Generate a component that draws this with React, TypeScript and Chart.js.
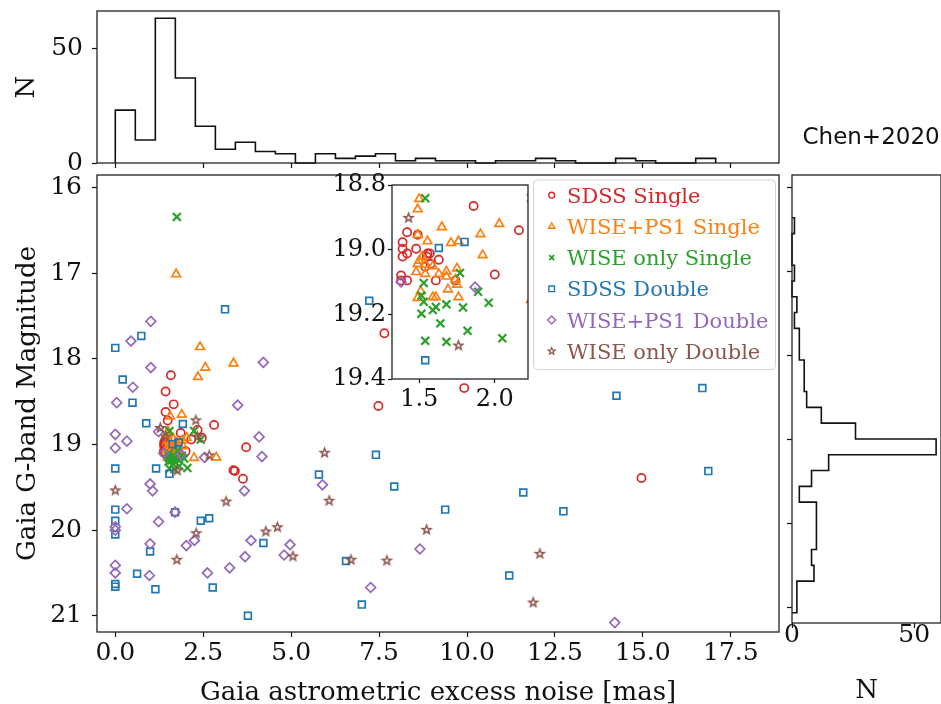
import React, { useEffect, useRef } from "react";
import { Chart, registerables } from "chart.js";

Chart.register(...registerables);

const PAGE_W = 941;
const PAGE_H = 704;

// ---- scatter samples: [excess noise (mas), G magnitude] ----
const SDSS_SINGLE: [number, number][] = [
  [1.58, 18.19], [1.43, 18.38], [1.66, 18.53], [1.43, 18.62], [1.49, 18.72], [2.81, 18.77],
  [2.34, 18.83], [2.46, 18.92], [3.72, 19.03], [3.36, 19.3], [3.4, 19.31], [3.63, 19.4],
  [7.48, 18.55], [9.92, 18.34], [7.65, 17.7], [14.96, 19.39],
  [1.86, 18.865], [2.16, 18.94], [1.42, 18.946], [1.49, 18.954], [1.39, 18.977], [1.39, 18.997],
  [1.42, 19.012], [1.39, 19.021], [1.48, 18.997], [1.555, 19.012], [1.57, 19.012], [1.55, 19.021],
  [1.63, 19.031], [1.575, 19.044], [1.54, 19.053], [1.38, 19.08], [1.42, 19.095], [1.38, 19.095],
  [1.61, 19.095], [1.74, 19.095], [2.0, 19.077],
];
const WISE_PS1_SINGLE: [number, number][] = [
  [1.73, 17.01], [2.41, 17.86], [2.56, 18.1], [2.35, 18.21], [3.36, 18.05], [1.56, 18.67],
  [1.89, 18.65], [2.24, 19.155], [2.87, 19.15],
  [1.5, 18.843], [1.49, 18.875], [1.65, 18.93], [1.49, 18.954], [1.555, 18.974], [1.71, 18.979],
  [1.76, 18.974], [1.905, 18.952], [2.03, 18.92], [1.92, 19.017], [1.52, 19.021], [1.5, 19.034],
  [1.49, 19.044], [1.54, 19.046], [1.59, 19.051], [1.48, 19.069], [1.54, 19.075], [1.63, 19.075],
  [1.68, 19.067], [1.75, 19.058], [1.68, 19.083], [1.69, 19.123], [1.75, 19.108], [1.51, 19.128],
  [1.49, 19.149], [1.59, 19.147], [1.61, 19.147], [1.76, 19.147], [1.74, 19.092],
];
const WISE_ONLY_SINGLE: [number, number][] = [
  [1.75, 16.34], [2.24, 18.84], [2.43, 18.94],
  [1.54, 18.841], [1.77, 19.072], [1.53, 19.103], [1.515, 19.142], [1.53, 19.161], [1.89, 19.13],
  [1.96, 19.164], [1.68, 19.169], [1.61, 19.177], [1.59, 19.187], [1.79, 19.179], [1.515, 19.198],
  [1.64, 19.228], [1.82, 19.251], [1.54, 19.282], [1.68, 19.285], [2.05, 19.274],
];
const SDSS_DOUBLE: [number, number][] = [
  [0.0, 17.87], [0.74, 17.73], [3.12, 17.42], [0.21, 18.24], [0.49, 18.51], [0.88, 18.75],
  [1.92, 18.76], [0.0, 19.28], [1.16, 19.28], [0.0, 19.76], [0.0, 19.89], [0.0, 20.05],
  [1.7, 19.79], [2.43, 19.89], [2.67, 19.86], [0.99, 20.25], [4.21, 20.15], [0.62, 20.51],
  [0.0, 20.63], [0.0, 20.66], [1.14, 20.69], [2.77, 20.67], [3.77, 21.0], [5.79, 19.35],
  [7.22, 17.32], [7.41, 19.12], [7.93, 19.49], [9.38, 19.76], [6.56, 20.36], [7.01, 20.87],
  [11.2, 20.53], [11.6, 19.56], [12.74, 19.78], [14.25, 18.43], [16.69, 18.34], [16.86, 19.31],
  [1.63, 18.995], [1.8, 18.976], [1.54, 19.342],
];
const WISE_PS1_DOUBLE: [number, number][] = [
  [1.01, 17.56], [0.445, 17.79], [4.21, 18.04], [1.01, 18.1], [0.5, 18.33], [0.04, 18.51],
  [3.48, 18.54], [1.23, 18.85], [0.0, 18.88], [0.33, 18.96], [0.0, 19.04], [4.09, 18.91],
  [4.17, 19.14], [2.54, 19.15], [0.99, 19.46], [1.06, 19.54], [3.67, 19.54], [0.33, 19.75],
  [0.0, 19.96], [0.0, 20.0], [1.7, 19.79], [1.23, 19.9], [2.25, 20.12], [2.02, 20.18],
  [0.99, 20.16], [3.86, 20.12], [3.69, 20.31], [4.97, 20.17], [4.8, 20.29], [0.0, 20.41],
  [0.0, 20.5], [0.97, 20.53], [2.62, 20.5], [3.25, 20.44], [5.89, 19.47], [8.66, 20.22],
  [7.26, 20.67], [14.2, 21.08],
  [1.38, 19.1], [1.87, 19.116],
];
const WISE_ONLY_DOUBLE: [number, number][] = [
  [1.28, 18.8], [2.29, 18.71], [2.34, 18.9], [2.67, 19.12], [0.0, 19.53], [3.15, 19.66],
  [2.3, 20.03], [1.75, 20.34], [4.28, 20.01], [4.61, 19.96], [5.05, 20.3], [5.95, 19.09],
  [6.08, 19.65], [8.85, 19.99], [6.7, 20.34], [7.72, 20.35], [12.07, 20.27], [11.88, 20.84],
  [1.43, 18.9], [1.76, 19.295],
];

const SERIES_NAMES = [
  "SDSS Single",
  "WISE+PS1 Single",
  "WISE only Single",
  "SDSS Double",
  "WISE+PS1 Double",
  "WISE only Double",
];
const SERIES_POINTS = [
  SDSS_SINGLE,
  WISE_PS1_SINGLE,
  WISE_ONLY_SINGLE,
  SDSS_DOUBLE,
  WISE_PS1_DOUBLE,
  WISE_ONLY_DOUBLE,
];

// ---- marginal histograms ----
const TOP_HIST_COUNTS = [23, 10, 63, 37, 16, 6, 9, 5, 4, 0, 4, 2, 3, 4, 1, 2, 1, 1, 0, 1, 1, 2, 1, 0, 0, 2, 1, 0, 0, 2];
const TOP_BIN_START = 0;
const TOP_BIN_WIDTH = 0.569;
const RIGHT_HIST_COUNTS = [1, 0, 0, 1, 0, 2, 1, 3, 3, 5, 5, 6, 12, 26, 59, 15, 8, 3, 10, 10, 10, 8, 9, 2, 2];
const RIGHT_BIN_START = 16.36;
const RIGHT_BIN_WIDTH = 0.1883;

// ---- ticks ----
const MAIN_X_TICKS = [0, 2.5, 5, 7.5, 10, 12.5, 15, 17.5];
const MAIN_Y_TICKS = [16, 17, 18, 19, 20, 21];
const INSET_X_TICKS = [1.5, 2.0];
const INSET_Y_TICKS = [18.8, 19.0, 19.2, 19.4];
const TOP_Y_TICKS = [0, 50];
const RIGHT_X_TICKS = [0, 50];

// ---- styling ----
const SERIF = "'DejaVu Serif', serif";
const SANS = "'DejaVu Sans', sans-serif";
const INK = "#111";
const SERIES_STYLE = [
  { color: "#d62728", kind: "circle", radius: 4.1, width: 1.7 },
  { color: "#ff7f0e", kind: "triangle", radius: 5.0, width: 1.7 },
  { color: "#2ca02c", kind: "cross", radius: 5.6, width: 2.2 },
  { color: "#1f77b4", kind: "square", radius: 4.8, width: 1.7 },
  { color: "#9467bd", kind: "diamond", radius: 4.9, width: 1.7 },
  { color: "#8c564b", kind: "star", radius: 4.6, width: 1.5 },
];
const CHART_POINT_STYLE: Record<string, string> = {
  circle: "circle",
  triangle: "triangle",
  cross: "crossRot",
  square: "rect",
  diamond: "rectRot",
};

function starPath(ctx: CanvasRenderingContext2D, x: number, y: number, outer: number, inner: number) {
  ctx.beginPath();
  for (let i = 0; i < 10; i++) {
    const r = i % 2 === 0 ? outer : inner;
    const a = -Math.PI / 2 + (i * Math.PI) / 5;
    const px = x + r * Math.cos(a);
    const py = y + r * Math.sin(a);
    if (i === 0) ctx.moveTo(px, py);
    else ctx.lineTo(px, py);
  }
  ctx.closePath();
}

function makeStarImage(color: string, outer: number, lw: number) {
  const size = Math.ceil(outer * 2 + lw * 2 + 2);
  const c = document.createElement("canvas");
  c.width = size;
  c.height = size;
  const g = c.getContext("2d")!;
  starPath(g, size / 2, size / 2 + 0.5, outer, outer * 0.42);
  g.strokeStyle = color;
  g.lineWidth = lw;
  g.lineJoin = "miter";
  g.stroke();
  return c;
}

function drawMarker(ctx: CanvasRenderingContext2D, kind: string, x: number, y: number, r: number, color: string, lw: number) {
  ctx.save();
  ctx.strokeStyle = color;
  ctx.lineWidth = lw;
  ctx.beginPath();
  if (kind === "circle") {
    ctx.arc(x, y, r, 0, Math.PI * 2);
  } else if (kind === "triangle") {
    ctx.moveTo(x, y - r);
    ctx.lineTo(x + r * 0.866, y + r * 0.5);
    ctx.lineTo(x - r * 0.866, y + r * 0.5);
    ctx.closePath();
  } else if (kind === "cross") {
    ctx.moveTo(x - r, y - r);
    ctx.lineTo(x + r, y + r);
    ctx.moveTo(x + r, y - r);
    ctx.lineTo(x - r, y + r);
  } else if (kind === "square") {
    ctx.rect(x - r, y - r, 2 * r, 2 * r);
  } else if (kind === "diamond") {
    ctx.moveTo(x, y - r);
    ctx.lineTo(x + r, y);
    ctx.lineTo(x, y + r);
    ctx.lineTo(x - r, y);
    ctx.closePath();
  } else if (kind === "star") {
    starPath(ctx, x, y, r, r * 0.42);
  }
  ctx.stroke();
  ctx.restore();
}

// axes frame (all four spines)
const framePlugin = {
  id: "frame",
  afterDraw(chart: any) {
    const { left, top, right, bottom } = chart.chartArea;
    const ctx = chart.ctx;
    ctx.save();
    ctx.strokeStyle = "#222";
    ctx.lineWidth = 1.3;
    ctx.strokeRect(left, top, right - left, bottom - top);
    ctx.restore();
  },
};

// opaque face for the zoomed inset axes
const insetFacePlugin = {
  id: "insetFace",
  beforeDraw(chart: any) {
    const { left, top, right, bottom } = chart.chartArea;
    const ctx = chart.ctx;
    ctx.save();
    ctx.fillStyle = "#fff";
    ctx.fillRect(left, top, right - left, bottom - top);
    ctx.restore();
  },
};

const seriesLegendPlugin = {
  id: "seriesLegend",
  afterDatasetsDraw(chart: any) {
    const ctx = chart.ctx as CanvasRenderingContext2D;
    const bx = 533.5, by = 180, bw = 242, bh = 189.5, rad = 4;
    ctx.save();
    ctx.beginPath();
    ctx.moveTo(bx + rad, by);
    ctx.lineTo(bx + bw - rad, by);
    ctx.arcTo(bx + bw, by, bx + bw, by + rad, rad);
    ctx.lineTo(bx + bw, by + bh - rad);
    ctx.arcTo(bx + bw, by + bh, bx + bw - rad, by + bh, rad);
    ctx.lineTo(bx + rad, by + bh);
    ctx.arcTo(bx, by + bh, bx, by + bh - rad, rad);
    ctx.lineTo(bx, by + rad);
    ctx.arcTo(bx, by, bx + rad, by, rad);
    ctx.closePath();
    ctx.fillStyle = "rgba(255,255,255,0.8)";
    ctx.fill();
    ctx.strokeStyle = "#d4d4d4";
    ctx.lineWidth = 1;
    ctx.stroke();

    const legendSizes: Record<string, [number, number]> = {
      circle: [2.9, 1.4],
      triangle: [3.6, 1.4],
      cross: [2.4, 1.8],
      square: [2.8, 1.4],
      diamond: [4.0, 1.4],
      star: [3.6, 1.2],
    };
    ctx.font = `21px ${SERIF}`;
    ctx.textBaseline = "alphabetic";
    ctx.textAlign = "left";
    SERIES_NAMES.forEach((name, i) => {
      const st = SERIES_STYLE[i];
      const base = 202.7 + i * 31.2;
      const [r, lw] = legendSizes[st.kind];
      drawMarker(ctx, st.kind, 551.7, base - 7.5, r, st.color, lw);
      ctx.fillStyle = st.color;
      ctx.fillText(name, 567, base);
    });
    ctx.restore();
  },
};

const captionPlugin = {
  id: "caption",
  afterDraw(chart: any) {
    const ctx = chart.ctx as CanvasRenderingContext2D;
    ctx.save();
    ctx.font = `23px ${SANS}`;
    ctx.fillStyle = INK;
    ctx.textBaseline = "alphabetic";
    ctx.textAlign = "left";
    ctx.fillText("Chen+2020", 802.5, 144);
    ctx.restore();
  },
};

function fixedTicks(values: number[]) {
  return (scale: any) => {
    scale.ticks = values.map((v) => ({ value: v }));
  };
}

// pin an axis box to a fixed thickness and drop its label-overflow padding
function fixWidth(w: number) {
  return (s: any) => {
    s.width = w;
    s.paddingTop = 0;
    s.paddingBottom = 0;
    s.paddingLeft = 0;
    s.paddingRight = 0;
  };
}
function fixHeight(h: number) {
  return (s: any) => {
    s.height = h;
    s.paddingTop = 0;
    s.paddingBottom = 0;
    s.paddingLeft = 0;
    s.paddingRight = 0;
  };
}

function tickGrid(len: number) {
  return {
    drawOnChartArea: false,
    drawTicks: true,
    tickLength: len,
    tickColor: INK,
    tickWidth: 1.2,
    color: INK,
  };
}

const BASE_OPTIONS = {
  responsive: false,
  maintainAspectRatio: false,
  animation: false as const,
  devicePixelRatio: 1,
  events: [] as string[],
};

function scatterDatasets(starImg: HTMLCanvasElement) {
  return SERIES_POINTS.map((pts, i) => {
    const st = SERIES_STYLE[i];
    return {
      label: SERIES_NAMES[i],
      data: pts.map(([x, y]) => ({ x, y })),
      pointStyle: st.kind === "star" ? starImg : CHART_POINT_STYLE[st.kind],
      pointRadius: st.radius,
      pointBorderWidth: st.width,
      pointBorderColor: st.color,
      pointBackgroundColor: "rgba(0,0,0,0)",
      borderColor: st.color,
      backgroundColor: "rgba(0,0,0,0)",
      showLine: false,
      clip: 0,
      order: SERIES_POINTS.length - i,
    };
  });
}

export default function App() {
  const topRef = useRef<HTMLCanvasElement>(null);
  const rightRef = useRef<HTMLCanvasElement>(null);
  const mainRef = useRef<HTMLCanvasElement>(null);
  const insetRef = useRef<HTMLCanvasElement>(null);

  useEffect(() => {
    const starImg = makeStarImage(SERIES_STYLE[5].color, SERIES_STYLE[5].radius, SERIES_STYLE[5].width);

    // histogram outlines as stepped paths
    const topEdges = TOP_HIST_COUNTS.map((_, i) => TOP_BIN_START + i * TOP_BIN_WIDTH);
    const topStep = [
      { x: TOP_BIN_START, y: 0 },
      ...TOP_HIST_COUNTS.map((c, i) => ({ x: topEdges[i], y: c })),
      { x: TOP_BIN_START + TOP_HIST_COUNTS.length * TOP_BIN_WIDTH, y: 0 },
    ];
    const rightEdges = RIGHT_HIST_COUNTS.map((_, i) => RIGHT_BIN_START + i * RIGHT_BIN_WIDTH);
    const rightStep = [
      { x: 0, y: RIGHT_BIN_START },
      ...RIGHT_HIST_COUNTS.map((c, i) => ({ x: c, y: rightEdges[i] })),
      { x: 0, y: RIGHT_BIN_START + RIGHT_HIST_COUNTS.length * RIGHT_BIN_WIDTH },
    ];

    const tickFont = { family: SERIF, size: 25 };
    const titleFont = { family: SERIF, size: 26 };

    const main = new Chart(mainRef.current!, {
      type: "scatter",
      data: { datasets: scatterDatasets(starImg) as any },
      options: {
        ...BASE_OPTIONS,
        layout: { padding: { left: 0, top: 175, right: PAGE_W - 779, bottom: 0 } },
        plugins: { legend: { display: false }, tooltip: { enabled: false } },
        scales: {
          x: {
            type: "linear",
            position: "bottom",
            min: -0.52,
            max: 18.87,
            afterBuildTicks: fixedTicks(MAIN_X_TICKS),
            afterFit: fixHeight(PAGE_H - 632),
            ticks: { font: tickFont, color: INK, padding: 1, maxRotation: 0, autoSkip: false, callback: (v: any) => Number(v).toFixed(1) },
            grid: tickGrid(5),
            border: { display: false },
            title: { display: true, text: "Gaia astrometric excess noise [mas]", font: titleFont, color: INK, padding: { top: 0, bottom: -5 } },
          },
          y: {
            type: "linear",
            position: "left",
            reverse: true,
            min: 15.85,
            max: 21.19,
            afterBuildTicks: fixedTicks(MAIN_Y_TICKS),
            afterFit: fixWidth(97),
            ticks: { font: tickFont, color: INK, padding: 10, autoSkip: false, callback: (v: any) => String(v) },
            grid: tickGrid(5),
            border: { display: false },
            title: { display: true, text: "Gaia G-band Magnitude", font: titleFont, color: INK, padding: { top: 13, bottom: 0 } },
          },
        },
      } as any,
      plugins: [framePlugin, seriesLegendPlugin],
    });

    const top = new Chart(topRef.current!, {
      type: "scatter",
      data: {
        datasets: [{
          data: topStep,
          showLine: true,
          stepped: "before",
          pointRadius: 0,
          borderColor: INK,
          borderWidth: 1.6,
          fill: false,
          clip: false,
        } as any],
      },
      options: {
        ...BASE_OPTIONS,
        layout: { padding: { left: 0, top: 11, right: PAGE_W - 779, bottom: PAGE_H - 163 - 8 } },
        plugins: { legend: { display: false }, tooltip: { enabled: false } },
        scales: {
          x: {
            type: "linear",
            min: -0.52,
            max: 18.87,
            afterBuildTicks: fixedTicks(MAIN_X_TICKS),
            afterFit: fixHeight(8),
            ticks: { display: false },
            grid: tickGrid(5),
            border: { display: false },
          },
          y: {
            type: "linear",
            min: 0,
            max: 66.15,
            afterBuildTicks: fixedTicks(TOP_Y_TICKS),
            afterFit: fixWidth(97),
            ticks: { font: tickFont, color: INK, padding: 9, autoSkip: false, callback: (v: any) => String(v) },
            grid: tickGrid(5),
            border: { display: false },
            title: { display: true, text: "N", font: titleFont, color: INK, padding: { top: 12, bottom: 0 } },
          },
        },
      } as any,
      plugins: [framePlugin],
    });

    const right = new Chart(rightRef.current!, {
      type: "scatter",
      data: {
        datasets: [{
          data: rightStep,
          showLine: true,
          stepped: "after",
          pointRadius: 0,
          borderColor: INK,
          borderWidth: 1.6,
          fill: false,
          clip: false,
        } as any],
      },
      options: {
        ...BASE_OPTIONS,
        layout: { padding: { left: 0, top: 175, right: 0, bottom: 0 } },
        plugins: { legend: { display: false }, tooltip: { enabled: false } },
        scales: {
          x: {
            type: "linear",
            min: 0,
            max: 61,
            afterBuildTicks: fixedTicks(RIGHT_X_TICKS),
            afterFit: fixHeight(PAGE_H - 623),
            ticks: { font: tickFont, color: INK, padding: -8, maxRotation: 0, autoSkip: false, callback: (v: any) => String(v) },
            grid: tickGrid(5),
            border: { display: false },
            title: { display: true, text: "N", font: titleFont, color: INK, padding: { top: 0, bottom: -3 } },
          },
          y: {
            type: "linear",
            reverse: true,
            min: 15.85,
            max: 21.19,
            afterBuildTicks: fixedTicks(MAIN_Y_TICKS),
            afterFit: fixWidth(792),
            ticks: { display: false },
            grid: tickGrid(5),
            border: { display: false },
          },
        },
      } as any,
      plugins: [framePlugin, captionPlugin],
    });

    const inset = new Chart(insetRef.current!, {
      type: "scatter",
      data: { datasets: scatterDatasets(starImg) as any },
      options: {
        ...BASE_OPTIONS,
        layout: { padding: { left: 0, top: 185, right: PAGE_W - 528, bottom: PAGE_H - 379 - 30 } },
        plugins: { legend: { display: false }, tooltip: { enabled: false } },
        scales: {
          x: {
            type: "linear",
            min: 1.32,
            max: 2.22,
            afterBuildTicks: fixedTicks(INSET_X_TICKS),
            afterFit: fixHeight(30),
            ticks: { font: { family: SERIF, size: 24 }, color: INK, padding: 2, maxRotation: 0, autoSkip: false, callback: (v: any) => Number(v).toFixed(1) },
            grid: tickGrid(4),
            border: { display: false },
          },
          y: {
            type: "linear",
            reverse: true,
            min: 18.8,
            max: 19.4,
            afterBuildTicks: fixedTicks(INSET_Y_TICKS),
            afterFit: fixWidth(392),
            ticks: { font: { family: SERIF, size: 24 }, color: INK, padding: 2, autoSkip: false, callback: (v: any) => Number(v).toFixed(1) },
            grid: tickGrid(4),
            border: { display: false },
          },
        },
      } as any,
      plugins: [insetFacePlugin, framePlugin],
    });

    return () => {
      main.destroy();
      top.destroy();
      right.destroy();
      inset.destroy();
    };
  }, []);

  const layer: React.CSSProperties = { position: "absolute", left: 0, top: 0 };
  return (
    <div style={{ position: "fixed", left: 0, top: 0, width: PAGE_W, height: PAGE_H, background: "#fff", overflow: "hidden" }}>
      <canvas ref={topRef} width={PAGE_W} height={PAGE_H} style={layer} />
      <canvas ref={rightRef} width={PAGE_W} height={PAGE_H} style={layer} />
      <canvas ref={mainRef} width={PAGE_W} height={PAGE_H} style={layer} />
      <canvas ref={insetRef} width={PAGE_W} height={PAGE_H} style={layer} />
    </div>
  );
}
